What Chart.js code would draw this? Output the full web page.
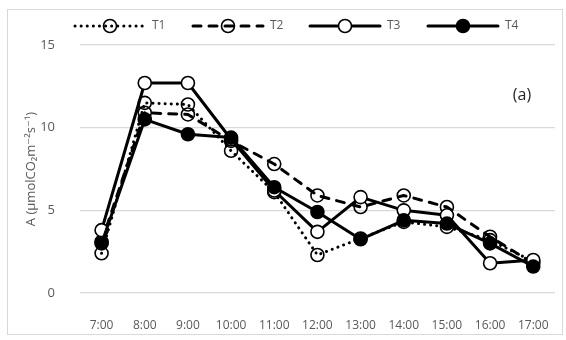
<!DOCTYPE html>
<html>
<head>
<meta charset="utf-8">
<script src="https://cdn.jsdelivr.net/npm/chart.js@4/dist/chart.umd.min.js"></script>
<style>
  html, body { margin: 0; padding: 0; background: #fff; }
  #wrap { width: 566px; height: 340px; position: relative; }
</style>
</head>
<body>
<div id="wrap"><canvas id="c" width="566" height="340"></canvas></div>
<script>
// Hourly net photosynthesis rate A for four treatments
const hours = ['7:00', '8:00', '9:00', '10:00', '11:00', '12:00', '13:00', '14:00', '15:00', '16:00', '17:00'];
const t1 = [2.4, 11.5, 11.4, 8.6, 6.1, 2.3, 3.3, 4.3, 4.0, 3.2, 1.9];
const t2 = [3.1, 10.9, 10.8, 9.2, 7.8, 5.9, 5.2, 5.9, 5.2, 3.4, 1.8];
const t3 = [3.8, 12.7, 12.7, 9.3, 6.2, 3.7, 5.8, 5.0, 4.7, 1.8, 2.0];
const t4 = [3.0, 10.5, 9.6, 9.4, 6.4, 4.9, 3.25, 4.4, 4.2, 3.0, 1.6];
const seriesNames = ['T1', 'T2', 'T3', 'T4'];
const yTicks = [0, 5, 10, 15];

const FONT = "'Open Sans', 'DejaVu Sans', sans-serif";
const GREY = '#595959';

// Outer frame and white background
const framePlugin = {
  id: 'frame',
  beforeDraw(chart) {
    const ctx = chart.ctx;
    ctx.save();
    ctx.fillStyle = '#fff';
    ctx.fillRect(0, 0, chart.width, chart.height);
    ctx.strokeStyle = '#d9d9d9';
    ctx.lineWidth = 1;
    ctx.strokeRect(7.5, 9.5, 555, 325);
    ctx.restore();
  }
};

// Legend row with line sample + marker, and the panel letter
const legendPlugin = {
  id: 'lineLegend',
  afterDraw(chart) {
    const ctx = chart.ctx;
    const starts = [75, 193, 310, 428];
    const len = 70, y = 26;
    ctx.save();
    chart.data.datasets.forEach((ds, i) => {
      const x0 = starts[i];
      ctx.beginPath();
      ctx.setLineDash(ds.borderDash || []);
      ctx.lineCap = ds.borderCapStyle || 'butt';
      ctx.lineWidth = ds.borderWidth;
      ctx.strokeStyle = ds.borderColor;
      ctx.moveTo(x0, y);
      ctx.lineTo(x0 + len, y);
      ctx.stroke();
      ctx.setLineDash([]);
      ctx.beginPath();
      ctx.arc(x0 + len / 2, y, ds.pointRadius, 0, Math.PI * 2);
      ctx.fillStyle = ds.pointBackgroundColor;
      ctx.fill();
      ctx.lineWidth = ds.pointBorderWidth;
      ctx.strokeStyle = ds.pointBorderColor;
      ctx.stroke();
      ctx.fillStyle = GREY;
      ctx.font = '12px ' + FONT;
      ctx.textBaseline = 'middle';
      ctx.textAlign = 'left';
      ctx.fillText(ds.label, x0 + len + 7, y);
    });
    ctx.fillStyle = '#262626';
    ctx.font = '16px ' + FONT;
    ctx.textAlign = 'center';
    ctx.textBaseline = 'middle';
    ctx.fillText('(a)', 522, 95);
    ctx.restore();
  }
};

function series(label, data, dash, cap, fill, order) {
  return {
    label, data, order,
    borderColor: '#000',
    borderWidth: 3,
    borderDash: dash,
    borderCapStyle: cap,
    borderJoinStyle: 'round',
    tension: 0,
    fill: false,
    pointRadius: 6.5,
    pointHoverRadius: 6.5,
    pointBorderWidth: 1.6,
    pointBorderColor: '#000',
    pointBackgroundColor: fill
  };
}

new Chart(document.getElementById('c'), {
  type: 'line',
  data: {
    labels: hours,
    datasets: [
      series(seriesNames[0], t1, [0.1, 6], 'round', 'rgba(255,255,255,0)', 4),
      series(seriesNames[1], t2, [8, 8], 'round', 'rgba(255,255,255,0)', 3),
      series(seriesNames[2], t3, [], 'round', '#fff', 2),
      series(seriesNames[3], t4, [], 'round', '#000', 1)
    ]
  },
  options: {
    responsive: false,
    animation: false,
    devicePixelRatio: 1,
    layout: { padding: { left: 8, right: 10, top: 45, bottom: 0 } },
    plugins: {
      legend: { display: false },
      tooltip: { enabled: false }
    },
    scales: {
      x: {
        offset: true,
        grid: { display: false },
        border: { display: false },
        ticks: { color: GREY, font: { family: FONT, size: 12 }, padding: 17, maxRotation: 0, autoSkip: false },
        afterFit(scale) { scale.height = 47; }
      },
      y: {
        min: yTicks[0],
        max: yTicks[yTicks.length - 1],
        afterBuildTicks(scale) { scale.ticks = yTicks.map(v => ({ value: v })); },
        grid: { color: '#d9d9d9', lineWidth: 1.3, drawTicks: false },
        border: { display: false },
        ticks: { color: GREY, font: { family: FONT, size: 13 }, padding: 25 },
        title: {
          display: true,
          text: 'A (µmolCO₂m⁻²s⁻¹)',
          color: GREY,
          font: { family: FONT, size: 13 },
          padding: { top: 15, bottom: 0 }
        },
        afterFit(scale) { scale.width = 72; }
      }
    }
  },
  plugins: [framePlugin, legendPlugin]
});
</script>
</body>
</html>
